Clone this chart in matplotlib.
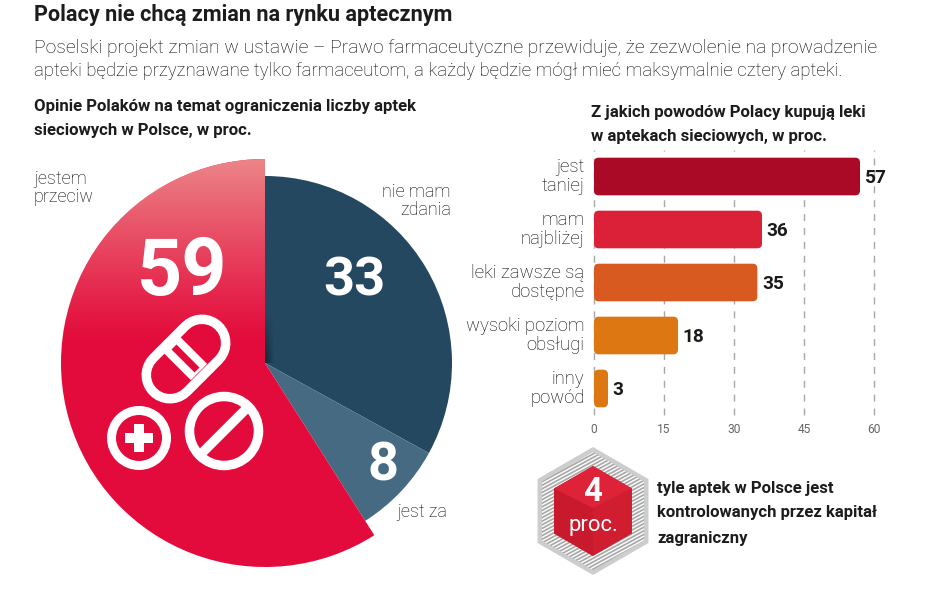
import numpy as np
import matplotlib
matplotlib.use("Agg")
import matplotlib.pyplot as plt
from matplotlib.patches import Circle, FancyBboxPatch, Polygon, Rectangle

W, H = 948, 593

pie_labels = ["nie mam\nzdania", "jest za", "jestem\nprzeciw"]
pie_values = [33, 8, 59]
pie_colors = ["#24485f", "#456a82", "#e30b3b"]

bar_labels = ["jest\ntaniej", "mam\nnajbliżej", "leki zawsze są\ndostępne",
              "wysoki poziom\nobsługi", "inny\npowód"]
bar_values = [57, 36, 35, 18, 3]
bar_colors = ["#ab0a27", "#da2137", "#d85a21", "#dd7712", "#dd7712"]
bar_ticks = [0, 15, 30, 45, 60]

plt.rcParams["font.family"] = ["Roboto", "DejaVu Sans"]


def px(size):
    return size * 0.72


fig = plt.figure(figsize=(W / 100, H / 100), dpi=100, facecolor="white")


def axes_px(x0, y0, x1, y1):
    return fig.add_axes([x0 / W, 1 - y1 / H, (x1 - x0) / W, (y1 - y0) / H])


# pie, drawn in pixel sized units around its centre
cx, cy = 265, 363
pax = axes_px(cx - 215, cy - 215, cx + 215, cy + 215)
wedges, _ = pax.pie(pie_values, colors=pie_colors, startangle=90, counterclock=False, radius=187)
wedges[2].set_radius(204)
pax.axis("off")

# red slice fades out to the top
grad = np.linspace(0, 1, 256).reshape(-1, 1)
rgba = np.zeros((256, 1, 4))
rgba[..., :3] = [0.93, 0.56, 0.56]
rgba[..., 3] = np.clip((grad - 0.55) / 0.45, 0, 1) ** 1.1
img = pax.imshow(rgba, extent=[-215, 215, -215, 215], origin="lower", aspect="auto", zorder=3)
img.set_clip_path(wedges[2])

# shadow of the red slice on the blue one, near the centre
shade = np.zeros((32, 32, 4))
shade[..., 3] = 0.5 * np.linspace(1, 0, 32)[:, None] * np.linspace(1, 0, 32)[None, :]
sh = pax.imshow(shade, extent=[0, 9, 0, 50], origin="lower", aspect="auto", zorder=3)
sh.set_clip_path(wedges[0])
pax.set_xlim(-215, 215)
pax.set_ylim(-215, 215)

# bars
bax = axes_px(594, 150, 874, 415)
bars = bax.barh(range(len(bar_values)), bar_values, height=0.71, color="none")
for rect, c in zip(bars, bar_colors):
    x, y, w, h = rect.get_x(), rect.get_y(), rect.get_width(), rect.get_height()
    r = 1.0
    bax.add_patch(FancyBboxPatch((x + r, y + 0.09), w - 2 * r, h - 0.18,
                                 boxstyle="round,pad=%g,rounding_size=%g" % (r, r),
                                 mutation_aspect=0.09, facecolor=c, edgecolor="none", zorder=3))
for i, v in enumerate(bar_values):
    bax.text(v + 1.0, i + 0.03, str(v), ha="left", va="center", fontsize=px(19),
             fontweight="bold", color="#1a1a1a", zorder=4)
    bax.text(-2.0, i, bar_labels[i], ha="right", va="center", fontsize=px(18.5),
             color="#000000", linespacing=1.02, fontweight="light")
bax.set_xlim(0, 60)
bax.set_ylim(4.5, -0.5)
bax.set_xticks(bar_ticks)
bax.set_yticks([])
bax.tick_params(axis="x", length=0, pad=6, labelsize=px(12), labelcolor="#666666")
bax.grid(axis="x", color="#a8a8a8", linestyle=(0, (5, 5)), linewidth=1.0, zorder=0)
bax.set_axisbelow(True)
for s in bax.spines.values():
    s.set_visible(False)
bax.patch.set_alpha(0)
for gl in bax.get_xgridlines():
    gl.set_clip_on(False)

# overlay in image pixels, for text and pictograms
ov = fig.add_axes([0, 0, 1, 1], zorder=5)
ov.set_xlim(0, W)
ov.set_ylim(H, 0)
ov.axis("off")

BLACK = "#1c1c1c"
ov.text(34, 15, "Polacy nie chcą zmian na rynku aptecznym", fontsize=px(21.7), fontweight="bold",
        color=BLACK, va="center")
ov.text(34, 48, "Poselski projekt zmian w ustawie – Prawo farmaceutyczne przewiduje, że zezwolenie na prowadzenie",
        fontsize=px(19.3), color="#000000", va="center", fontweight="light")
ov.text(34, 71, "apteki będzie przyznawane tylko farmaceutom, a każdy będzie mógł mieć maksymalnie cztery apteki.",
        fontsize=px(18.7), color="#000000", va="center", fontweight="light")
ov.text(34, 107, "Opinie Polaków na temat ograniczenia liczby aptek", fontsize=px(16.7), fontweight="bold",
        color=BLACK, va="center")
ov.text(34, 131, "sieciowych w Polsce, w proc.", fontsize=px(16.7), fontweight="bold", color=BLACK, va="center")
ov.text(591, 112, "Z jakich powodów Polacy kupują leki", fontsize=px(16.7), fontweight="bold", color=BLACK, va="center")
ov.text(591, 136, "w aptekach sieciowych, w proc.", fontsize=px(16.7), fontweight="bold", color=BLACK, va="center")

# pie texts
ov.text(34, 188, pie_labels[2], fontsize=px(18), color="#000000", va="center", linespacing=1.02, fontweight="light")
ov.text(451, 201, pie_labels[0], fontsize=px(18), color="#000000", va="center", ha="right", linespacing=1.02,
        fontweight="light")
ov.text(397, 512, pie_labels[1], fontsize=px(18), color="#000000", va="center", fontweight="light")
ov.text(182, 273, str(pie_values[2]), fontsize=57, fontweight="bold", color="white", ha="center", va="center")
ov.text(354, 281, str(pie_values[0]), fontsize=39, fontweight="bold", color="white", ha="center", va="center")
ov.text(383, 466, str(pie_values[1]), fontsize=39, fontweight="bold", color="white", ha="center", va="center")

RED = pie_colors[2]
# capsule
ov.plot([170, 202], [375, 343], color="white", lw=px(57), solid_capstyle="round", zorder=6)
ov.plot([170, 202], [375, 343], color=RED, lw=px(38), solid_capstyle="round", zorder=7)
ov.plot([172, 199], [345, 372], color="white", lw=px(23), solid_capstyle="butt", zorder=8)
ov.plot([174, 197], [347, 370], color=RED, lw=px(7), solid_capstyle="butt", zorder=9)
# plus
ov.add_patch(Circle((139, 438), 27.5, facecolor=RED, edgecolor="white", lw=px(9), zorder=6))
ov.add_patch(Rectangle((125, 433), 28, 10, facecolor="white", zorder=7))
ov.add_patch(Rectangle((134, 424), 10, 28, facecolor="white", zorder=7))
# no entry
ov.add_patch(Circle((224, 431), 34.5, facecolor=RED, edgecolor="white", lw=px(9.5), zorder=6))
ov.plot([199, 249], [456, 406], color="white", lw=px(9.5), solid_capstyle="butt", zorder=7)


# hexagon badge
def hexagon(x, y, r):
    a = np.radians(np.arange(6) * 60 - 90)
    return np.column_stack([x + r * np.cos(a), y + r * np.sin(a)])


hx, hy = 593, 511
ov.add_patch(Polygon(hexagon(hx, hy, 64), facecolor="#cdcdcd", edgecolor="none", zorder=2))
striped = Polygon(hexagon(hx, hy, 59), facecolor="#a9a9a9", edgecolor="none", zorder=2)
ov.add_patch(striped)
for off in np.arange(-120, 120, 3.6):
    ln, = ov.plot([hx - 70, hx + 70], [hy + off + 38, hy + off - 38], color="white", lw=1.0, zorder=3)
    ln.set_clip_path(striped)
inner = hexagon(hx, hy, 45)
mid = (hx, hy - 3)
ov.add_patch(Polygon(inner, facecolor="#d01d30", edgecolor="none", zorder=4))
ov.add_patch(Polygon([inner[0], inner[1], mid, inner[5]], facecolor="#de2238", edgecolor="none", zorder=5))
ov.add_patch(Polygon([inner[5], mid, inner[3], inner[4]], facecolor="#c91a2d", edgecolor="none", zorder=5))
ov.text(hx, 492, "4", fontsize=px(33), fontweight="bold", color="white", ha="center", va="center", zorder=6)
ov.text(hx, 526, "proc.", fontsize=px(22), color="white", ha="center", va="center", zorder=6)

for y, t in zip([488, 512, 538], ["tyle aptek w Polsce jest", "kontrolowanych przez kapitał", "zagraniczny"]):
    ov.text(657, y, t, fontsize=px(16.6), fontweight="bold", color=BLACK, va="center")

fig.savefig("out.png", dpi=100)
